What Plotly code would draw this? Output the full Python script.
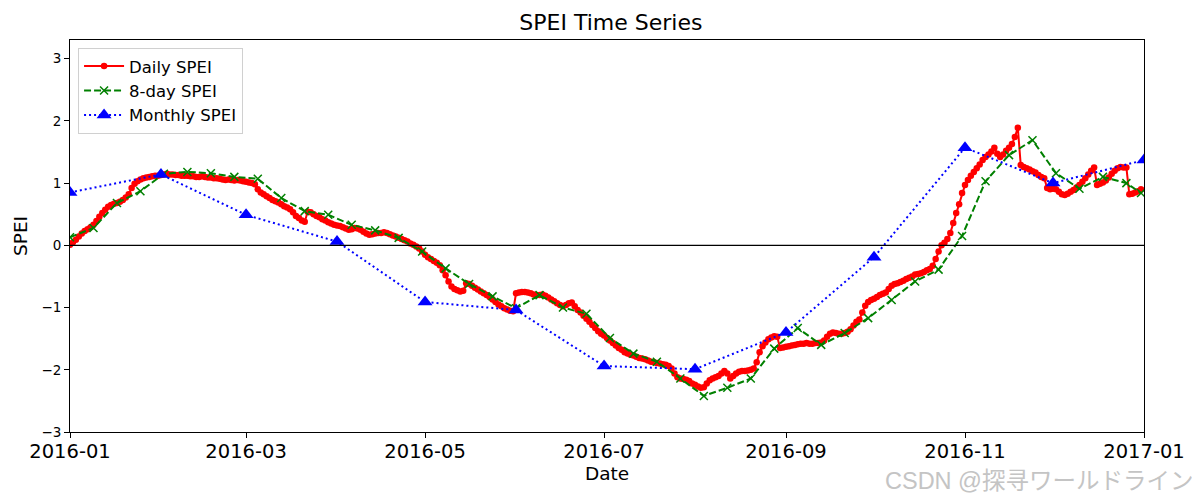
import pandas as pd
import plotly.graph_objects as go

# ---------------- data ----------------
daily_jan = [0.01, 0.05, 0.09, 0.14, 0.19, 0.23, 0.26, 0.29, 0.33, 0.39,
             0.46, 0.52, 0.57, 0.62, 0.65, 0.67, 0.68, 0.70, 0.73, 0.77,
             0.82, 0.92, 0.99, 1.03, 1.06, 1.08, 1.09, 1.10, 1.11, 1.12, 1.12]
daily_feb = [1.13, 1.14, 1.15, 1.14, 1.14, 1.13, 1.13, 1.12, 1.12, 1.12,
             1.11, 1.11, 1.10, 1.10, 1.11, 1.10, 1.09, 1.09, 1.08, 1.08,
             1.07, 1.06, 1.05, 1.06, 1.05, 1.04, 1.05, 1.04, 1.03]
daily_mar = [1.02, 1.01, 1.00, 0.98, 0.90, 0.85, 0.82, 0.79, 0.76, 0.73,
             0.71, 0.69, 0.66, 0.63, 0.61, 0.58, 0.53, 0.47, 0.44, 0.40,
             0.38, 0.54, 0.53, 0.50, 0.47, 0.45, 0.42, 0.40, 0.37, 0.35, 0.33]
daily_apr = [0.32, 0.31, 0.29, 0.27, 0.25, 0.26, 0.28, 0.27, 0.25, 0.22,
             0.19, 0.17, 0.18, 0.19, 0.20, 0.20, 0.21, 0.20, 0.18, 0.16,
             0.14, 0.12, 0.10, 0.08, 0.06, 0.03, 0.01, -0.02, -0.05, -0.10]
daily_may = [-0.15, -0.19, -0.22, -0.25, -0.28, -0.32, -0.40, -0.48, -0.58, -0.66,
             -0.70, -0.72, -0.74, -0.73, -0.61, -0.62, -0.65, -0.68, -0.71, -0.74,
             -0.77, -0.80, -0.83, -0.87, -0.91, -0.95, -0.98, -1.01, -1.03, -1.05, -1.06]
daily_jun = [-0.77, -0.76, -0.75, -0.75, -0.76, -0.77, -0.79, -0.80, -0.80, -0.79,
             -0.81, -0.84, -0.87, -0.90, -0.93, -0.96, -0.98, -0.96, -0.93, -0.92,
             -0.98, -1.04, -1.08, -1.13, -1.18, -1.23, -1.28, -1.33, -1.38, -1.42]
daily_jul = [-1.45, -1.49, -1.53, -1.57, -1.61, -1.65, -1.68, -1.72, -1.74, -1.76,
             -1.77, -1.79, -1.81, -1.82, -1.83, -1.85, -1.87, -1.88, -1.89, -1.90,
             -1.91, -1.92, -1.94, -1.98, -2.06, -2.12, -2.14, -2.15, -2.16, -2.18, -2.22]
daily_aug = [-2.24, -2.27, -2.29, -2.28, -2.22, -2.17, -2.14, -2.12, -2.10, -2.06,
             -2.02, -2.06, -2.14, -2.10, -2.06, -2.03, -2.02, -2.02, -2.01, -2.00,
             -1.98, -1.88, -1.72, -1.62, -1.56, -1.51, -1.48, -1.46, -1.47, -1.65, -1.64]
daily_sep = [-1.63, -1.62, -1.61, -1.60, -1.59, -1.58, -1.58, -1.57, -1.58, -1.58,
             -1.57, -1.57, -1.56, -1.53, -1.47, -1.42, -1.40, -1.41, -1.42, -1.42,
             -1.41, -1.39, -1.35, -1.29, -1.23, -1.19, -1.08, -0.97, -0.91, -0.88]
daily_oct = [-0.86, -0.83, -0.80, -0.78, -0.76, -0.70, -0.65, -0.62, -0.61, -0.59,
             -0.57, -0.54, -0.52, -0.50, -0.47, -0.46, -0.45, -0.43, -0.40, -0.38,
             -0.33, -0.22, -0.10, 0.00, 0.04, 0.10, 0.20, 0.36, 0.52, 0.66, 0.84]
daily_nov = [0.97, 1.05, 1.12, 1.18, 1.24, 1.30, 1.37, 1.42, 1.46, 1.51,
             1.57, 1.47, 1.42, 1.46, 1.52, 1.57, 1.63, 1.74, 1.89, 1.29,
             1.26, 1.24, 1.22, 1.19, 1.17, 1.13, 1.10, 1.08, 0.92, 0.90]
daily_dec = [0.91, 0.90, 0.86, 0.82, 0.81, 0.83, 0.86, 0.89, 0.93, 0.97,
             1.02, 1.08, 1.14, 1.20, 1.25, 0.97, 0.99, 1.01, 1.04, 1.09,
             1.15, 1.20, 1.24, 1.26, 1.25, 1.25, 0.82, 0.83, 0.85, 0.87, 0.90]

eight_day_values = [0.13, 0.28, 0.68, 0.87, 1.15, 1.18, 1.16, 1.10, 1.07, 0.76,
                    0.55, 0.49, 0.33, 0.24, 0.12, -0.10, -0.37, -0.62, -0.82, -1.01,
                    -0.80, -1.00, -1.10, -1.49, -1.74, -1.87, -2.14, -2.42, -2.29, -2.14,
                    -1.66, -1.33, -1.60, -1.41, -1.17, -0.88, -0.58, -0.39, 0.15, 1.03,
                    1.45, 1.69, 1.16, 0.91, 1.10, 1.00, 0.84]

monthly_dates = ["2016-01-01", "2016-02-01", "2016-03-01", "2016-04-01", "2016-05-01",
                 "2016-06-01", "2016-07-01", "2016-08-01", "2016-09-01", "2016-10-01",
                 "2016-11-01", "2016-12-01", "2017-01-01"]
monthly_values = [0.85, 1.14, 0.49, 0.06, -0.91, -1.04, -1.94, -1.99, -1.40, -0.19,
                  1.57, 1.00, 1.37]

x_tick_vals = ["2016-01-01", "2016-03-01", "2016-05-01", "2016-07-01",
               "2016-09-01", "2016-11-01", "2017-01-01"]
x_tick_text = ["2016-01", "2016-03", "2016-05", "2016-07", "2016-09", "2016-11", "2017-01"]
y_tick_vals = [-3, -2, -1, 0, 1, 2, 3]

# ---------------- build series ----------------
daily_values = (daily_jan + daily_feb + daily_mar + daily_apr + daily_may + daily_jun +
                daily_jul + daily_aug + daily_sep + daily_oct + daily_nov + daily_dec)
daily_dates = pd.date_range("2016-01-01", periods=len(daily_values), freq="D")
eight_day_dates = list(pd.date_range("2016-01-01", periods=len(eight_day_values) - 1, freq="8D"))
eight_day_dates.append(pd.Timestamp("2016-12-31"))

FONT = "DejaVu Sans, Liberation Sans, sans-serif"

# the page body has an 8px margin, so the figure is 8px smaller than the window
W, H = 1192, 492

fig = go.Figure()
fig.add_trace(go.Scatter(
    x=daily_dates, y=daily_values, name="Daily SPEI", mode="lines+markers",
    line=dict(color="#ff0000", width=2),
    marker=dict(symbol="circle", size=6.5, color="#ff0000"),
))
fig.add_trace(go.Scatter(
    x=eight_day_dates, y=eight_day_values, name="8-day SPEI", mode="lines+markers",
    line=dict(color="#008000", width=2, dash="7px,3px"),
    marker=dict(symbol="x-thin", size=8, line=dict(color="#008000", width=1.5)),
))
fig.add_trace(go.Scatter(
    x=monthly_dates, y=monthly_values, name="Monthly SPEI", mode="lines+markers",
    line=dict(color="#0000ff", width=2, dash="2px,3px"),
    marker=dict(symbol="triangle-up", size=13, color="#0000ff"),
))

fig.add_hline(y=0, line=dict(color="black", width=1.2))

fig.update_layout(
    width=W, height=H,
    margin=dict(l=62, r=56, t=32, b=68),
    paper_bgcolor="white", plot_bgcolor="white",
    font=dict(family=FONT, color="black"),
    title=dict(text="SPEI Time Series", x=0.5058, xanchor="center",
               y=1 - 14.5 / H, yanchor="middle", font=dict(size=22, family=FONT, color="black")),
    showlegend=True,
    legend=dict(x=0.0075, y=0.98, xanchor="left", yanchor="top",
                bgcolor="rgba(255,255,255,0.8)", bordercolor="#d0d0d0", borderwidth=1,
                font=dict(size=16.5, family=FONT), tracegroupgap=0, itemwidth=40),
)

fig.update_xaxes(
    range=["2016-01-01", "2017-01-01"], tickvals=x_tick_vals, ticktext=x_tick_text,
    showgrid=False, zeroline=False, showline=True, linecolor="black", linewidth=1,
    mirror=True, ticks="outside", ticklen=5, tickwidth=1, tickcolor="black",
    ticklabelstandoff=-3,
    tickfont=dict(size=19.5, family=FONT),
    title=dict(text="Date", font=dict(size=18.5, family=FONT), standoff=3),
)
fig.update_yaxes(
    range=[-3, 3.3], tickvals=y_tick_vals,
    showgrid=False, zeroline=False, showline=True, linecolor="black", linewidth=1,
    mirror=True, ticks="outside", ticklen=5, tickwidth=1, tickcolor="black",
    tickfont=dict(size=13.5, family=FONT),
    title=dict(text="SPEI", font=dict(size=18.5, family=FONT), standoff=8),
)

fig.add_annotation(
    text="CSDN @探寻ワールドライン", xref="paper", yref="paper",
    x=1.0475, y=-0.125, xanchor="right", yanchor="middle", showarrow=False,
    font=dict(size=23.5, color="#c4c4c4", family="Liberation Sans, Noto Sans CJK JP, sans-serif"),
)

fig.write_html("out.html")
